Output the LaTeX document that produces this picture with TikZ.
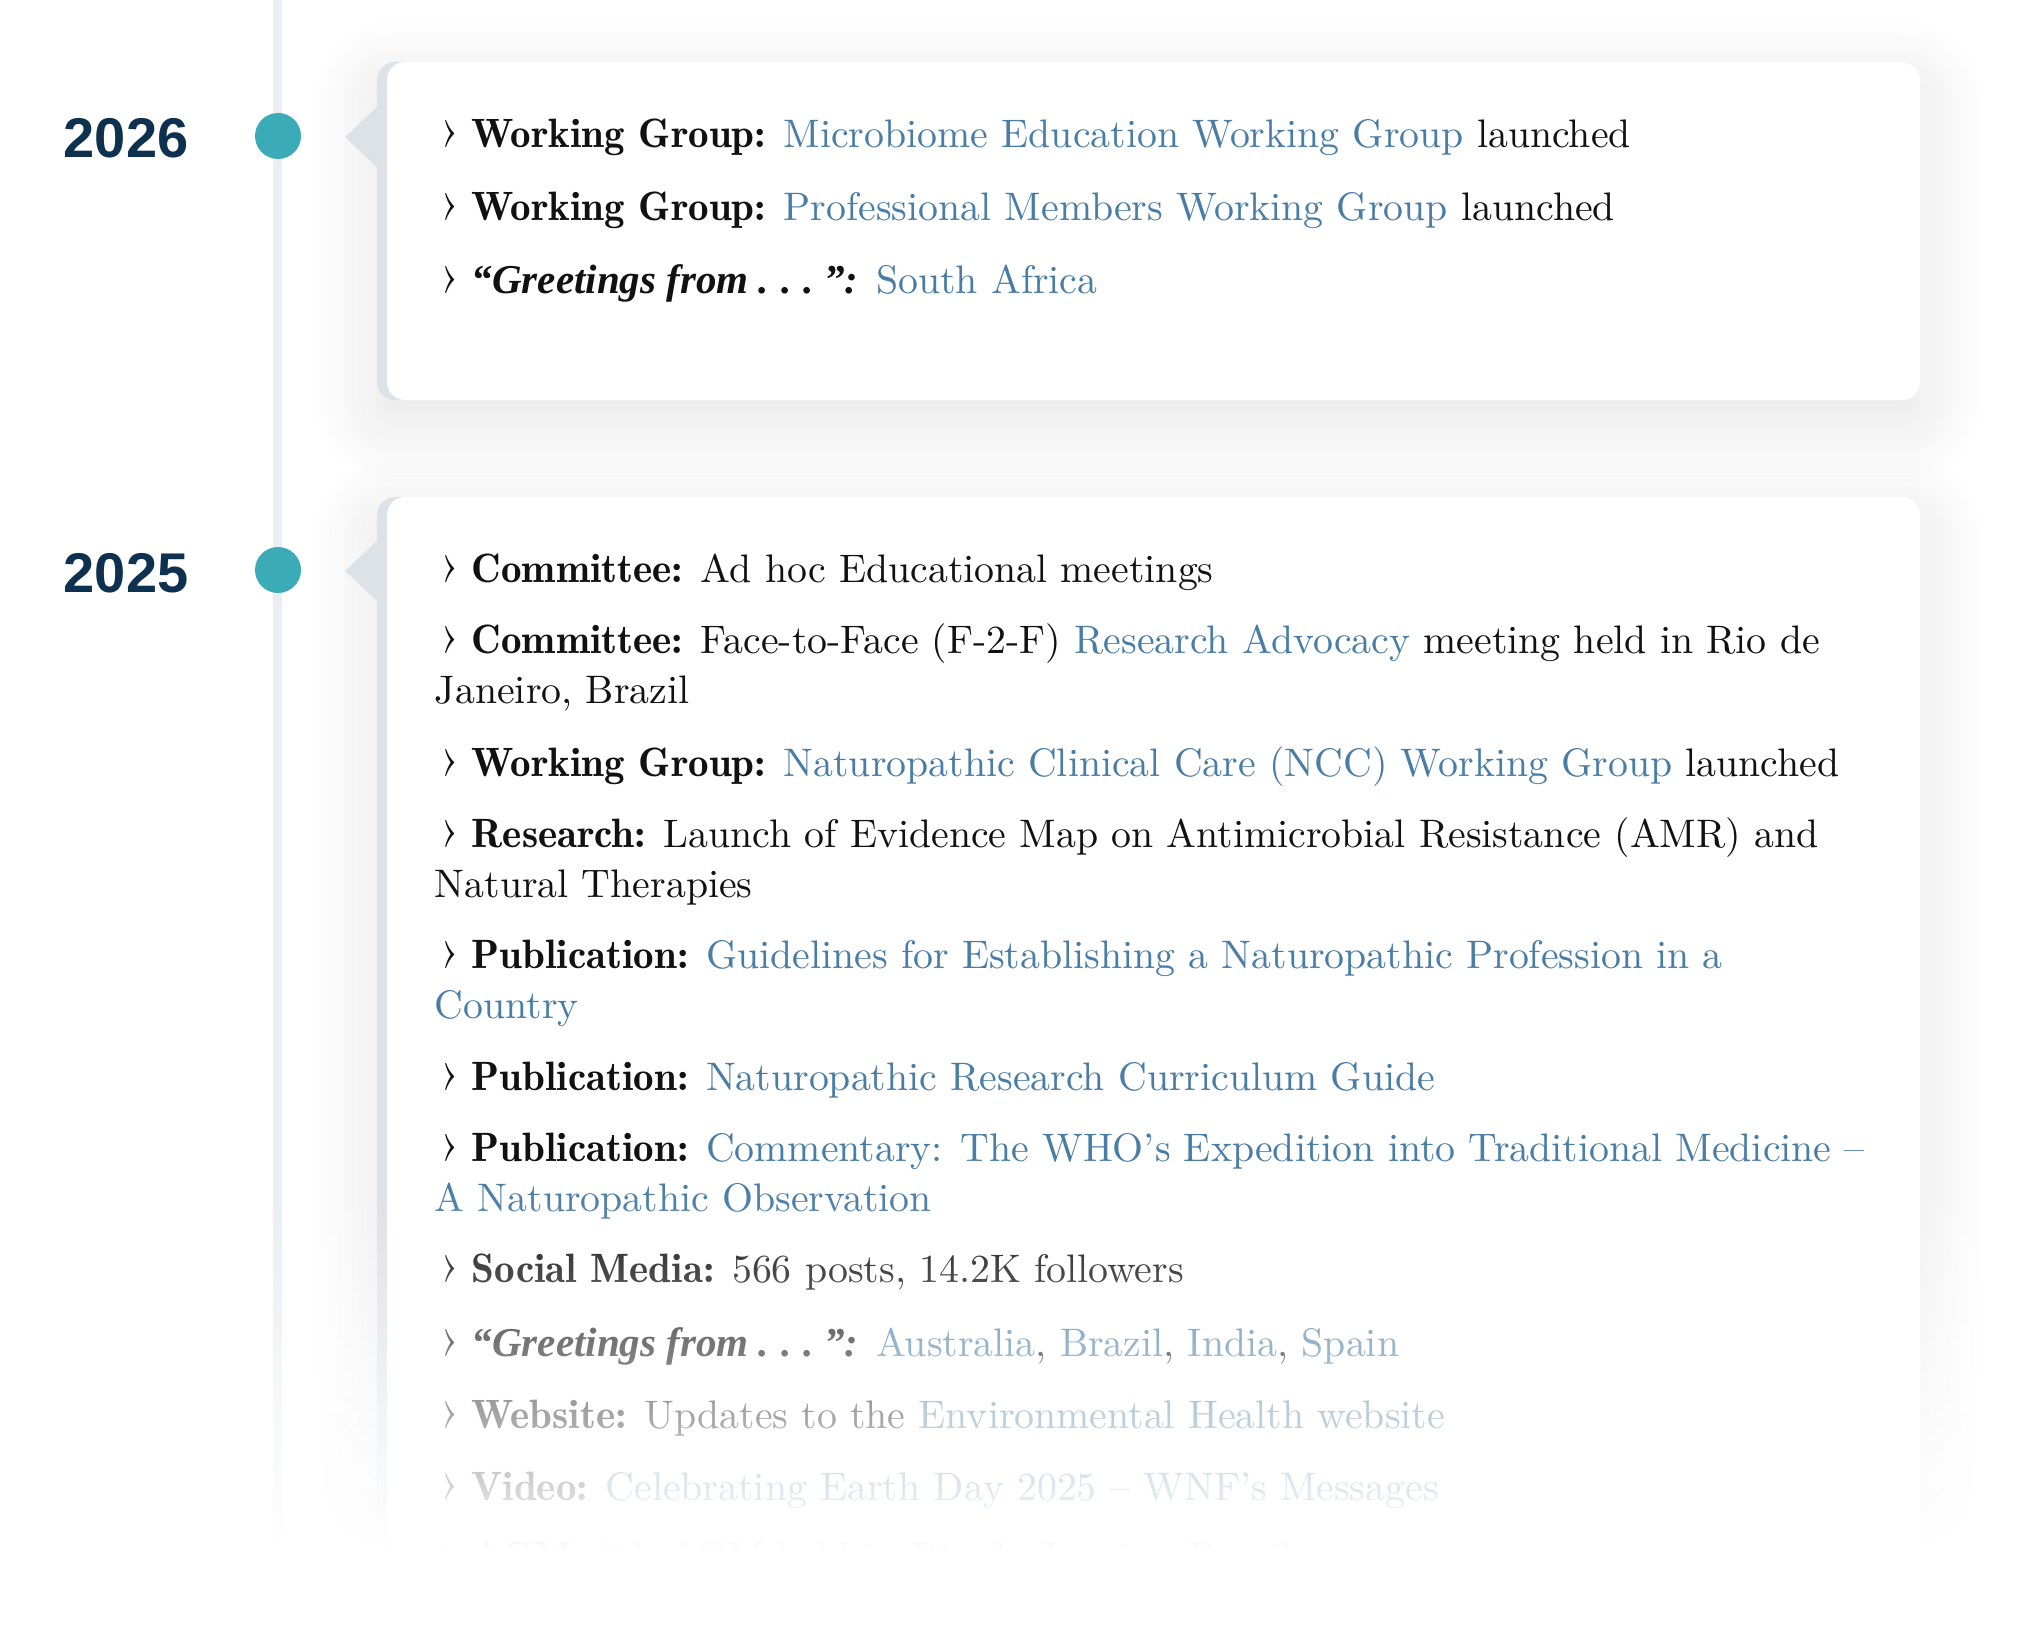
\documentclass[tikz,border=0pt]{standalone}
\usepackage{fontspec}
\usepackage{tikz}
\usetikzlibrary{shadows.blur,fadings}

\newfontfamily\yearfont{Liberation Sans}
\newfontfamily\quotefont{Liberation Serif}
\definecolor{yearnavy}{HTML}{0F3150}
\definecolor{dotteal}{HTML}{3AABB7}
\definecolor{linkblue}{HTML}{4A7DA6}
\definecolor{ink}{HTML}{111111}
\definecolor{notchgrey}{HTML}{DDE2E6}
\definecolor{railgrey}{HTML}{EAEEF2}

\newcommand\chev{\makebox[9.25pt][l]{\hspace{1.1pt}{\fontsize{14}{14}\selectfont\guilsinglright}}}
\newcommand\lab[1]{{\fontsize{10.25}{12}\fontseries{b}\selectfont #1}}
\newcommand\glab[1]{{\quotefont\bfseries\itshape\fontsize{10.25}{12}\selectfont #1}}
\newcommand\lnk[1]{\textcolor{linkblue}{#1}}

\tikzfading[name=fade down, top color=transparent!100, bottom color=transparent!0]

\begin{document}
\begin{tikzpicture}[x=0.25pt,y=-0.25pt,
    year/.style={anchor=base west,inner sep=0,text=yearnavy,font=\yearfont\bfseries\fontsize{14}{16}\selectfont},
    dot/.style={circle,fill=dotteal,minimum size=11.5pt,inner sep=0},
    entry/.style={anchor=base west,inner sep=0,text=ink,font=\fontsize{9.95}{12}\selectfont},
    card/.style={fill=notchgrey,rounded corners=4.5pt,blur shadow={shadow xshift=0pt,shadow yshift=-5pt,shadow blur radius=16pt,shadow blur steps=30,shadow opacity=11}},
    face/.style={fill=white,rounded corners=4.5pt}]
  \useasboundingbox (0,0) rectangle (2042,1626);
  \clip (0,0) rectangle (2042,1626);

  % timeline rail
  \fill[railgrey] (273,0) rectangle (282,1570);

  % cards with their notches
  \fill[card] (377,62) rectangle (1920,400);
  \fill[face] (387,62) rectangle (1920,400);
  \fill[notchgrey] (345,137) -- (379,105) -- (379,169) -- cycle;
  \fill[card] (377,497) rectangle (1920,1600);
  \fill[face] (387,497) rectangle (1920,1600);
  \fill[notchgrey] (345,571) -- (379,539) -- (379,603) -- cycle;

  % years
  \node[year] (y2026) at (63,158) {2026};
  \node[dot] (d2026) at (278,136) {};
  \node[year] (y2025) at (63,592) {2025};
  \node[dot] (d2025) at (278,570) {};

  % 2026
  \node[entry] (a1) at (434,148) {\chev\lab{Working Group:} \lnk{Microbiome Education Working Group} launched};
  \node[entry] (a2) at (434,221) {\chev\lab{Working Group:} \lnk{Professional Members Working Group} launched};
  \node[entry] (a3) at (434,294) {\chev\glab{“Greetings from~.\hspace{0.3em}.\hspace{0.3em}.~”:} \lnk{South Africa}};

  % 2025
  \node[entry] (b1) at (434,582) {\chev\lab{Committee:} Ad hoc Educational meetings};
  \node[entry] (b2) at (434,653) {\chev\lab{Committee:} Face-to-Face (F-2-F) \lnk{Research Advocacy} meeting held in Rio de};
  \node[entry] (b2x) at (434,703) {Janeiro, Brazil};
  \node[entry] (b3) at (434,776) {\chev\lab{Working Group:} \lnk{Naturopathic Clinical Care (NCC) Working Group} launched};
  \node[entry] (b4) at (434,847) {\chev\lab{Research:} Launch of Evidence Map on Antimicrobial Resistance (AMR) and};
  \node[entry] (b4x) at (434,897) {Natural Therapies};
  \node[entry] (b5) at (434,968) {\chev\lab{Publication:} \lnk{Guidelines for Establishing a Naturopathic Profession in a}};
  \node[entry] (b5x) at (434,1018) {\lnk{Country}};
  \node[entry] (b6) at (434,1090) {\chev\lab{Publication:} \lnk{Naturopathic Research Curriculum Guide}};
  \node[entry] (b7) at (434,1161) {\chev\lab{Publication:} \lnk{Commentary: The WHO’s Expedition into Traditional Medicine –}};
  \node[entry] (b7x) at (434,1211) {\lnk{A Naturopathic Observation}};
  \node[entry] (b8) at (434,1282) {\chev\lab{Social Media:} 566 posts, 14.2K followers};
  \node[entry] (b9) at (434,1356) {\chev\glab{“Greetings from~.\hspace{0.3em}.\hspace{0.3em}.~”:} \lnk{Australia}, \lnk{Brazil}, \lnk{India}, \lnk{Spain}};
  \node[entry] (b10) at (434,1428) {\chev\lab{Website:} Updates to the \lnk{Environmental Health website}};
  \node[entry] (b11) at (434,1500) {\chev\lab{Video:} \lnk{Celebrating Earth Day 2025 – WNF’s Messages}};
  \node[entry] (b12) at (434,1570) {\chev\lab{AGM:} 8th AGM held in Rio de Janeiro, Brazil};

  % fade out at the bottom
  \fill[white,path fading=fade down] (-10,1190) rectangle (2052,1552);
  \fill[white] (-10,1550) rectangle (2052,1640);
\end{tikzpicture}
\end{document}
